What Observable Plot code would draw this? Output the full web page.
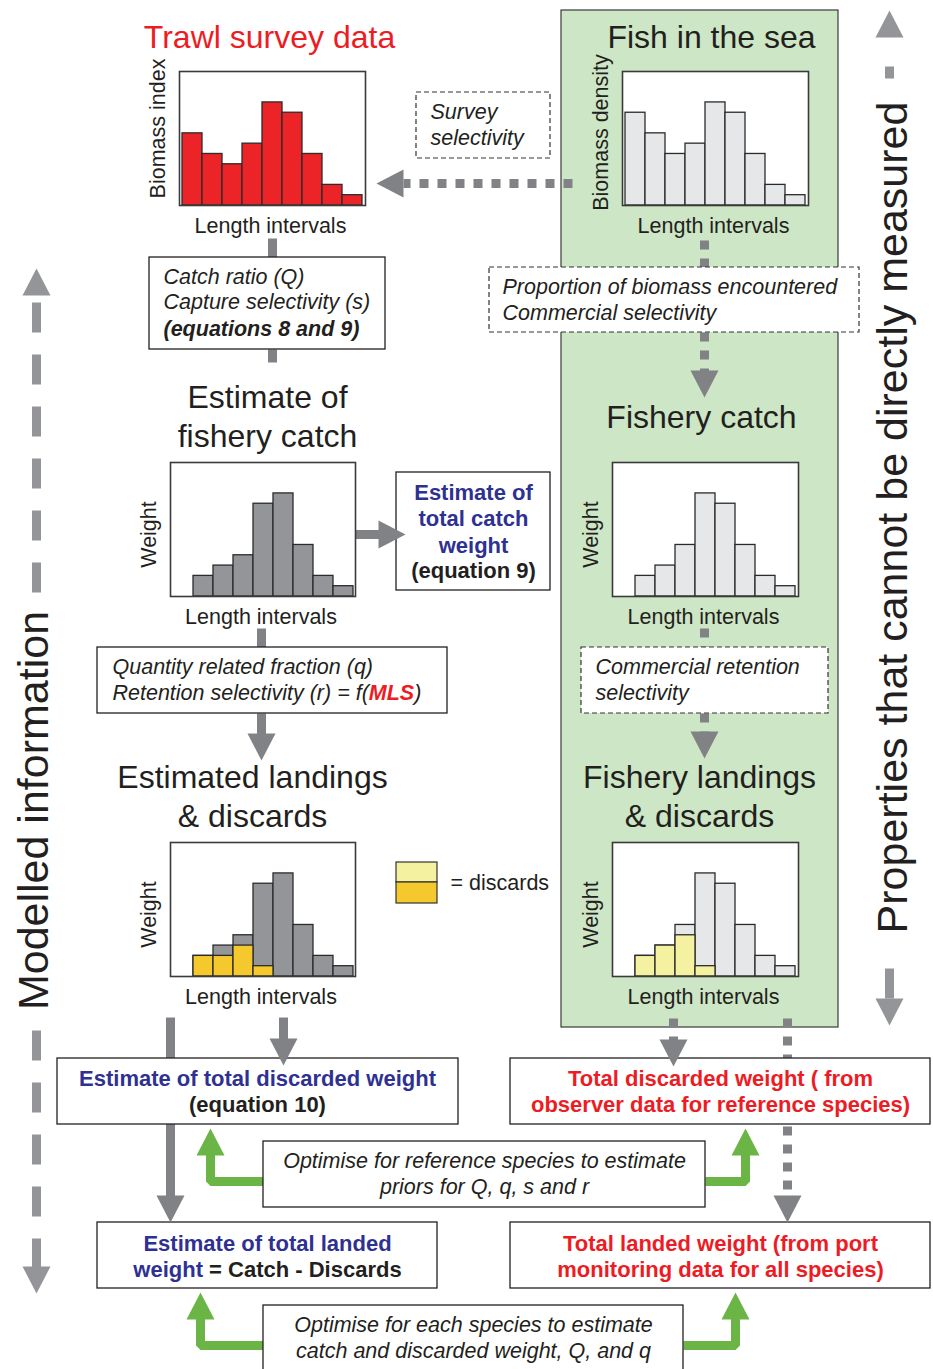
<!DOCTYPE html>
<html><head><meta charset="utf-8">
<script src="https://cdn.jsdelivr.net/npm/d3@7"></script>
<script src="https://cdn.jsdelivr.net/npm/@observablehq/plot@0.6"></script>
<style>
html,body{margin:0;padding:0;background:#fff;}
#root{position:relative;width:933px;height:1369px;overflow:hidden;background:#fff;}
#root svg{position:absolute;}
</style></head><body><div id="root"></div>
<script>
// ---------------- DATA ----------------
const bins = ["1","2","3","4","5","6","7","8","9"];
const trawlSurvey     = [7,5,4,6,10,9,5,2,1];
const fishInSea       = [9,7,5,6,10,9,5,2,1];
const estimatedCatch  = [0,2,3,4,9,10,5,2,1];
const fisheryCatch    = [0,2,3,5,10,9,5,2,1];
const estimatedDiscards = [0,2,2,3,1,0,0,0,0];
const fisheryDiscards   = [0,2,3,4,1,0,0,0,0];
const yMax = 13;

// ---------------- STYLE ----------------
const FONT = '"Liberation Sans", Arial, Helvetica, sans-serif';
const INK = "#231f20", BLUE = "#2e3192", RED = "#ed1c24";
const GREY = "#808285", LGREY = "#939598", GREEN = "#6ab545";
const PANEL = "#cde6c5";
const C = {red:"#ec2327", grey:"#939598", light:"#e6e7e8", yellow:"#f5c92e", lyellow:"#f4f1a0"};
const FS = 21.5, FSB = 22;
const root = document.getElementById("root");

// ---------------- LAYOUT (diagram geometry) ----------------
const panel = [{x1:561,y1:10,x2:838,y2:1027}];
const boxes = [
  {x1:149,y1:257,x2:385,y2:349},{x1:396,y1:472,x2:550,y2:590},
  {x1:97,y1:647,x2:447,y2:713},{x1:57,y1:1058,x2:458,y2:1124},
  {x1:510,y1:1058,x2:930,y2:1124},{x1:263,y1:1141,x2:705,y2:1207},
  {x1:97,y1:1222,x2:437,y2:1288},{x1:510,y1:1222,x2:930,y2:1288},
  {x1:263,y1:1305,x2:683,y2:1390}
];
const dashedBoxes = [
  {x1:416,y1:92,x2:550,y2:158},{x1:489,y1:267,x2:859,y2:332},{x1:581,y1:647,x2:828,y2:713}
];
const solidSegs = [
  {x1:272,y1:238,x2:272,y2:257},{x1:272,y1:349,x2:272,y2:362},
  {x1:345,y1:534,x2:382,y2:534},{x1:261,y1:628,x2:261,y2:648},
  {x1:261,y1:713,x2:261,y2:738},{x1:170,y1:1017,x2:170,y2:1199},
  {x1:283,y1:1017,x2:283,y2:1043}
];
const dottedSegs = [
  {x1:572,y1:183,x2:403,y2:183},
  {x1:704,y1:240,x2:704,y2:267},{x1:704,y1:332,x2:704,y2:372},
  {x1:704,y1:628,x2:704,y2:647},{x1:704,y1:713,x2:704,y2:734},
  {x1:673,y1:1018,x2:673,y2:1043},{x1:787,y1:1018,x2:787,y2:1199}
];
const sideSegs = [
  {x1:36,y1:302,x2:36,y2:596},{x1:36,y1:1030,x2:36,y2:1268},
  {x1:889,y1:66,x2:889,y2:78},{x1:889,y1:968,x2:889,y2:1000}
];
const greenPaths = [
  [[263,1181],[210,1181],[210,1154]],[[705,1181],[745,1181],[745,1154]],
  [[263,1345],[200,1345],[200,1318]],[[683,1345],[735,1345],[735,1318]]
];
const heads = [
  {x:405,y:534,dir:"right",c:GREY},{x:261,y:760,dir:"down",c:GREY},
  {x:170,y:1222,dir:"down",c:GREY},{x:283,y:1065,dir:"down",c:GREY},
  {x:376,y:183,dir:"left",c:GREY},{x:704,y:397,dir:"down",c:GREY},
  {x:704,y:758,dir:"down",c:GREY},{x:673,y:1066,dir:"down",c:GREY},
  {x:787,y:1222,dir:"down",c:GREY},
  {x:36,y:268,dir:"up",c:LGREY},{x:36,y:1293,dir:"down",c:LGREY},
  {x:889,y:10,dir:"up",c:LGREY},{x:889,y:1025,dir:"down",c:LGREY},
  {x:210,y:1128,dir:"up",c:GREEN},{x:745,y:1128,dir:"up",c:GREEN},
  {x:200,y:1292,dir:"up",c:GREEN},{x:735,y:1292,dir:"up",c:GREEN}
];

// ---------------- TEXT ----------------
const labels = [];
function L(text,x,y,o={}){labels.push(Object.assign({text,x,y,size:FS,weight:"normal",style:"normal",color:INK,anchor:"start",rotate:0},o));}
// titles
L("Trawl survey data",269,37,{size:32,color:RED,anchor:"middle"});
L("Fish in the sea",711,37,{size:32,anchor:"middle"});
L("Estimate of",267,397,{size:32,anchor:"middle"});
L("fishery catch",267,436,{size:32,anchor:"middle"});
L("Fishery catch",701,417,{size:32,anchor:"middle"});
L("Estimated landings",252,777,{size:32,anchor:"middle"});
L("& discards",252,816,{size:32,anchor:"middle"});
L("Fishery landings",699,777,{size:32,anchor:"middle"});
L("& discards",699,816,{size:32,anchor:"middle"});
L("Modelled information",34,810,{size:43,anchor:"middle",rotate:-90});
L("Properties that cannot be directly measured",893,517,{size:43,anchor:"middle",rotate:-90});
// italic notes
const it = {style:"italic"};
L("Survey",430,112,it); L("selectivity",430,138,it);
L("Catch ratio (Q)",163,277,it); L("Capture selectivity (s)",163,302,it);
L("(equations 8 and 9)",163,329,{style:"italic",weight:"bold"});
L("Proportion of biomass encountered",502,287,it); L("Commercial selectivity",502,313,it);
L("Quantity related fraction (q)",112,667,it);
L("Commercial retention",595,667,it); L("selectivity",595,693,it);
L("Optimise for reference species to estimate",484,1161,{style:"italic",anchor:"middle"});
L("priors for Q, q, s and r",484,1187,{style:"italic",anchor:"middle"});
L("Optimise for each species to estimate",473,1325,{style:"italic",anchor:"middle"});
L("catch and discarded weight, Q, and q",473,1351,{style:"italic",anchor:"middle"});
// bold boxes
const bb = (color)=>({weight:"bold",color,anchor:"middle",size:FSB});
L("Estimate of",473,492,bb(BLUE)); L("total catch",473,518,bb(BLUE));
L("weight",473,545,bb(BLUE)); L("(equation 9)",473,570,bb(INK));
L("Estimate of total discarded weight",257,1078,bb(BLUE)); L("(equation 10)",257,1104,bb(INK));
L("Total discarded weight ( from",720,1078,bb(RED)); L("observer data for reference species)",720,1104,bb(RED));
L("Estimate of total landed",267,1243,bb(BLUE));
L("Total landed weight (from port",720,1243,bb(RED)); L("monitoring data for all species)",720,1269,bb(RED));
L("= discards",450,883,{});

// mixed-style lines, measured
const ctx = document.createElement("canvas").getContext("2d");
function W(s,style,weight,size){ctx.font=`${style} ${weight} ${size}px ${FONT}`;return ctx.measureText(s).width;}
{
  const a="Retention selectivity (r) = f(", b="MLS", c=")";
  let x=112; L(a,x,693,it); x+=W(a,"italic","normal",FS);
  L(b,x,693,{style:"italic",weight:"bold",color:RED}); x+=W(b,"italic","bold",FS);
  L(c,x,693,it);
}
{
  const a="weight", b=" = Catch - Discards";
  const wa=W(a,"normal","bold",FSB), wb=W(b,"normal","bold",FSB);
  let x=267-(wa+wb)/2;
  L(a,x,1269,{weight:"bold",color:BLUE,size:FSB}); L(b,x+wa,1269,{weight:"bold",size:FSB});
}

// ---------------- DIAGRAM PLOT ----------------
function tri(h,i){
  const w=28, l=27; const {x,y,dir}=h; let p;
  if(dir==="down") p=[[x,y],[x-w/2,y-l],[x+w/2,y-l]];
  else if(dir==="up") p=[[x,y],[x-w/2,y+l],[x+w/2,y+l]];
  else if(dir==="left") p=[[x,y],[x+l,y-w/2],[x+l,y+w/2]];
  else p=[[x,y],[x-l,y-w/2],[x-l,y+w/2]];
  return p.map(([px,py])=>({x:px,y:py,id:i,c:h.c}));
}
const triPts = heads.flatMap(tri);
const greenPts = greenPaths.flatMap((p,i)=>p.map(([x,y])=>({x,y,id:i})));
const legendSw = [{x1:396,y1:862,x2:437,y2:882,f:C.lyellow},{x1:396,y1:882,x2:437,y2:903,f:C.yellow}];

const diagram = Plot.plot({
  width:933,height:1369,margin:0,
  style:{background:"transparent",fontFamily:FONT,overflow:"visible"},
  x:{domain:[0,933],range:[0,933],axis:null},
  y:{domain:[0,1369],range:[0,1369],axis:null},
  marks:[
    Plot.rect(panel,{x1:"x1",y1:"y1",x2:"x2",y2:"y2",fill:PANEL,stroke:"#3a3a3a",strokeWidth:1.2}),
    Plot.link(solidSegs,{x1:"x1",y1:"y1",x2:"x2",y2:"y2",stroke:GREY,strokeWidth:9}),
    Plot.link(dottedSegs,{x1:"x1",y1:"y1",x2:"x2",y2:"y2",stroke:GREY,strokeWidth:9,strokeDasharray:"9,9"}),
    Plot.link(sideSegs,{x1:"x1",y1:"y1",x2:"x2",y2:"y2",stroke:LGREY,strokeWidth:9,strokeDasharray:"30,22"}),
    Plot.line(greenPts,{x:"x",y:"y",z:"id",stroke:GREEN,strokeWidth:9,strokeLinejoin:"miter",strokeLinecap:"butt"}),
    Plot.rect(boxes,{x1:"x1",y1:"y1",x2:"x2",y2:"y2",fill:"white",stroke:INK,strokeWidth:1.3}),
    Plot.rect(dashedBoxes,{x1:"x1",y1:"y1",x2:"x2",y2:"y2",fill:"white",stroke:"#333",strokeWidth:1.2,strokeDasharray:"5,3"}),
    Plot.rect(legendSw,{x1:"x1",y1:"y1",x2:"x2",y2:"y2",fill:d=>d.f,stroke:"#333",strokeWidth:1.2}),
    ...[GREY,LGREY,GREEN].map(col=>Plot.line(triPts.filter(d=>d.c===col),{x:"x",y:"y",z:"id",fill:col,stroke:"none"})),
    ...labels.map(l=>Plot.text([l],{x:"x",y:"y",text:"text",fontSize:l.size,fontWeight:l.weight,fontStyle:l.style,
      fill:l.color,textAnchor:l.anchor,lineAnchor:"middle",rotate:l.rotate,fontFamily:FONT}))
  ]
});
diagram.style.left="0px"; diagram.style.top="0px";
root.append(diagram);

// ---------------- HISTOGRAMS ----------------
function histo({values,discards,fill,discardFill,yLabel,labelDy,frame}){
  const data = bins.map((b,i)=>({bin:b,value:values[i],discard:discards?discards[i]:0}));
  const mL=48,mR=4,mT=4,mB=36;
  const svg = Plot.plot({
    width:frame.w+mL+mR,height:frame.h+mT+mB,
    marginLeft:mL,marginRight:mR,marginTop:mT,marginBottom:mB,
    style:{background:"transparent",fontFamily:FONT,overflow:"visible"},
    x:{type:"band",domain:bins,padding:0,axis:null},
    y:{domain:[0,yMax],axis:null},
    marks:[
      Plot.frame({fill:"white",stroke:"none"}),
      Plot.barY(data.filter(d=>d.value>0),{x:"bin",y:"value",fill,stroke:"#2b2b2b",strokeWidth:1.3}),
      discards ? Plot.barY(data.filter(d=>d.discard>0),{x:"bin",y:"discard",fill:discardFill,stroke:"#2b2b2b",strokeWidth:1.3}) : null,
      Plot.frame({stroke:"#3a3a3a",strokeWidth:1.6}),
      Plot.text(["Length intervals"],{frameAnchor:"bottom",dy:21,dx:-2,fontSize:FS,fill:INK,textAnchor:"middle",lineAnchor:"middle",fontFamily:FONT}),
      Plot.text([yLabel],{frameAnchor:"left",dx:-21,dy:labelDy,rotate:-90,fontSize:FS,fill:INK,textAnchor:"middle",lineAnchor:"middle",fontFamily:FONT})
    ]
  });
  svg.style.left=(frame.x-mL)+"px"; svg.style.top=(frame.y-mT)+"px";
  root.append(svg);
}
histo({values:trawlSurvey,fill:C.red,yLabel:"Biomass index",labelDy:-10,frame:{x:179,y:71,w:186,h:134}});
histo({values:fishInSea,fill:C.light,yLabel:"Biomass density",labelDy:-6,frame:{x:622,y:71,w:186,h:134}});
histo({values:estimatedCatch,fill:C.grey,yLabel:"Weight",labelDy:5,frame:{x:170,y:462,w:185,h:134}});
histo({values:fisheryCatch,fill:C.light,yLabel:"Weight",labelDy:5,frame:{x:612,y:462,w:186,h:134}});
histo({values:estimatedCatch,discards:estimatedDiscards,fill:C.grey,discardFill:C.yellow,yLabel:"Weight",labelDy:5,frame:{x:170,y:842,w:185,h:134}});
histo({values:fisheryCatch,discards:fisheryDiscards,fill:C.light,discardFill:C.lyellow,yLabel:"Weight",labelDy:5,frame:{x:612,y:842,w:186,h:134}});
</script></body></html>
